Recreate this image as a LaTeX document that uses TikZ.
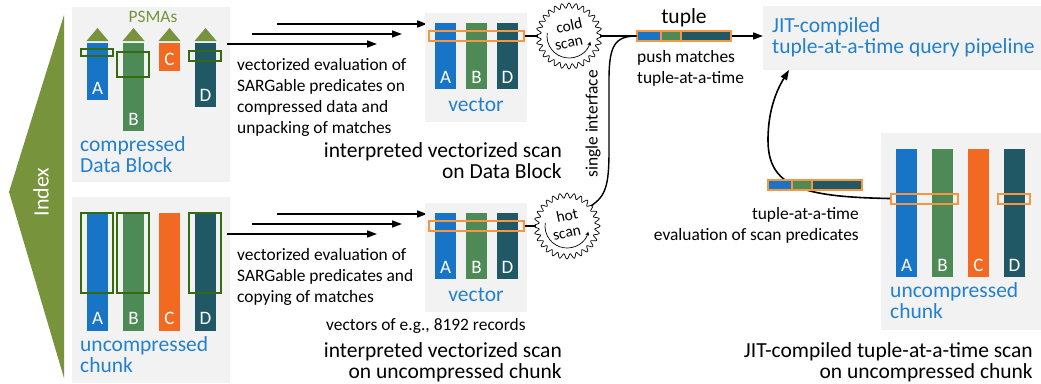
\documentclass[tikz,border=0pt]{standalone}
\usepackage{fontspec}
\setmainfont{Carlito}
\usetikzlibrary{arrows.meta,positioning}

\definecolor{colA}{HTML}{1874C6}
\definecolor{colB}{HTML}{4E8A56}
\definecolor{colC}{HTML}{F26A22}
\definecolor{colD}{HTML}{215866}
\definecolor{olive}{HTML}{77933C}
\definecolor{psmagreen}{HTML}{336B0E}
\definecolor{selorange}{HTML}{F7963F}
\definecolor{panel}{HTML}{F2F2F2}
\definecolor{textblue}{HTML}{2380CF}

\newcommand{\smallfont}{\fontsize{17.4}{21}\selectfont}
\newcommand{\bigfont}{\fontsize{21.5}{21}\selectfont}

% gear with a turning arrow: name, x, y, upper word
\newcommand{\scangear}[4]{%
  \node[gear] (#1) at (#2,#3) {};
  \draw[gearline, shift={(#2,#3)}] plot[domain=0:360, samples=337, variable=\t]
    (\t:{30.5+2.5*cos(28*\t)}) -- cycle;
  \draw[gearline, -{Stealth[length=4pt,width=4pt]}] ([shift={(172:22pt)}]#1.center)
    arc[start angle=172, end angle=345, radius=22pt];
  \node[gearlabel] (#1top) at ([yshift=10.5pt]#1.center) {#4};
  \node[gearlabel] (#1bot) at ([yshift=-8pt]#1.center) {scan};
}

% tuple of three attribute slots: prefix, x, y
\newcommand{\tuplebox}[3]{%
  \node[tseg, fill=colA, minimum width=24pt] (#1A) at (#2,#3) {};
  \node[tseg, fill=colB, minimum width=20pt, right=0pt of #1A] (#1B) {};
  \node[tseg, fill=colD, minimum width=50pt, right=0pt of #1B] (#1D) {};
}

\begin{document}
\begin{tikzpicture}[x=1pt, y=-1pt,
  panelbox/.style = {fill=panel, inner sep=0pt, outer sep=0pt, anchor=north west},
  bar/.style = {anchor=north, minimum width=21pt, inner sep=0pt, outer sep=0pt},
  letter/.style = {anchor=base, text=white, inner sep=0pt,
                   font=\fontsize{19}{19}\selectfont},
  psmabox/.style = {draw=psmagreen, line width=1.8pt},
  selbox/.style = {draw=selorange, line width=2pt, inner sep=0pt,
                   minimum height=10pt},
  tseg/.style = {draw=selorange, line width=1.6pt, inner sep=0pt, outer sep=0pt,
                 minimum height=10pt},
  gear/.style = {circle, minimum size=62pt, inner sep=0pt},
  gearline/.style = {line width=0.7pt},
  gearlabel/.style = {font=\fontsize{15.5}{15.5}\selectfont, inner sep=0pt, rotate=12},
  flow/.style = {line width=1.6pt, -{Triangle[length=10pt,width=7pt]}},
  link/.style = {line width=1.4pt},
  smalltext/.style = {font=\smallfont, align=left, inner sep=0pt},
  bigtext/.style = {font=\bigfont, align=left, inner sep=0pt},
  bluetext/.style = {bigtext, text=textblue}]
  \useasboundingbox (0,0) rectangle (1041,383);

  % index
  \fill[olive] (64,15) -- (64,378) -- (9,192) -- cycle;
  \node[rotate=90, text=white, font=\fontsize{22}{22}\selectfont] (index) at (41,192) {Index};

  % compressed Data Block
  \node[panelbox, minimum width=158pt, minimum height=175pt] (cbpanel) at (72,7) {};
  \node[smalltext, text=olive, anchor=base] (psmas) at (153,22) {PSMAs};
  \foreach \n/\c/\x/\h in {A/colA/97.5/57, B/colB/133.5/88, C/colC/169.5/28, D/colD/205.5/64} {
    \fill[olive] ({\x-11},41) -- ({\x+11},41) -- (\x,28) -- cycle;
    \node[bar, fill=\c, minimum height=\h pt] (cb\n) at (\x,43) {};
    \node[letter] (cbl\n) at ([yshift=6pt]cb\n.south) {\n};
  }
  \draw[psmabox] (81,49) rectangle (113,56);
  \draw[psmabox] (117,52) rectangle (149,77);
  \draw[psmabox] (189,51) rectangle (221,61);
  \node[bluetext, anchor=base west] (cblabel) at (80,172) {compressed\\Data Block};

  % uncompressed chunk
  \node[panelbox, minimum width=158pt, minimum height=186pt] (ucpanel) at (72,197) {};
  \foreach \n/\c/\x in {A/colA/97.5, B/colB/133.5, C/colC/169.5, D/colD/205.5} {
    \node[bar, fill=\c, minimum height=118pt] (uc\n) at (\x,213) {};
    \node[letter] (ucl\n) at ([yshift=7pt]uc\n.south) {\n};
  }
  \foreach \x in {97,133,205}
    \draw[psmabox] ({\x-16},213) rectangle ({\x+16},293);
  \node[bluetext, anchor=base west] (uclabel) at (80,372) {uncompressed\\chunk};

  % vectorized evaluation
  \foreach \k in {0,1,2} {
    \coordinate (cbs\k) at ({277-25*\k},{24+10*\k});
    \coordinate (cbe\k) at ({427-25*\k},{24+10*\k});
    \draw[flow] (cbs\k) -- (cbe\k);
    \coordinate (ucs\k) at ({277-25*\k},{214+10*\k});
    \coordinate (uce\k) at ({427-25*\k},{214+10*\k});
    \draw[flow] (ucs\k) -- (uce\k);
  }
  \node[smalltext, anchor=base west] (cbdesc) at (237,133)
    {vectorized evaluation of\\SARGable predicates on\\compressed data and\\unpacking of matches};
  \node[smalltext, anchor=base west] (ucdesc) at (237,302)
    {vectorized evaluation of\\SARGable predicates and\\copying of matches};

  % vectors
  \foreach \v/\y in {vt/13, vb/203} {
    \node[panelbox, minimum width=102pt, minimum height=109pt] (panel\v) at (425,\y) {};
    \foreach \n/\c/\x in {A/colA/445.5, B/colB/476.5, D/colD/507.5} {
      \node[bar, fill=\c, minimum height=66pt] (\v\n) at (\x,\y+10) {};
      \node[letter] (\v l\n) at ([yshift=6pt]\v\n.south) {\n};
    }
    \node[selbox, minimum width=95pt] (sel\v) at (476.5,\y+23) {};
    \node[bluetext, anchor=base] (lab\v) at (476,\y+98) {vector};
  }
  \node[smalltext, anchor=base west] (vecnote) at (326,330) {vectors of e.g., 8192 records};
  \node[bigtext, align=right, anchor=base east] (cbscan) at (562,178)
    {interpreted vectorized scan\\on Data Block};
  \node[bigtext, align=right, anchor=base east] (ucscan) at (562,378)
    {interpreted vectorized scan\\on uncompressed chunk};

  % cold and hot scans
  \scangear{cold}{569}{36}{cold}
  \scangear{hot}{567}{226}{hot}
  \draw[link] (selvt) -- (cold);
  \draw[link] (selvb) -- (hot);

  % query pipeline
  \node[panelbox, minimum width=278pt, minimum height=64pt] (jit) at (763,6) {};
  \node[bluetext, anchor=base west] (jitlabel) at (772,53)
    {JIT-compiled\\tuple-at-a-time query pipeline};
  \draw[flow] (cold) -- (cold -| jit.west);
  \tuplebox{tpa}{649}{36}
  \node[bigtext, anchor=base] (tuplelab) at (684,23) {tuple};
  \node[smalltext, anchor=base west] (pushlab) at (637,83) {push matches\\tuple-at-a-time};
  \draw[link] (hot.40) .. controls (606,196) and (609,185) .. (609,150) -- (609,80)
    .. controls (609,45) and (615,36) .. (tpaA.west);
  \node[smalltext, rotate=90] (single) at (593,124) {single interface};

  % JIT-compiled scan
  \node[panelbox, minimum width=160pt, minimum height=197pt] (urpanel) at (881,133) {};
  \foreach \n/\c/\x in {A/colA/906.5, B/colB/942.5, C/colC/978.5, D/colD/1014.5} {
    \node[bar, fill=\c, minimum height=128pt] (ur\n) at (\x,149) {};
    \node[letter] (url\n) at ([yshift=6pt]ur\n.south) {\n};
  }
  \node[selbox, minimum width=67pt] (selAB) at (924.5,198.5) {};
  \node[selbox, minimum width=32pt] (selD) at (1014,198.5) {};
  \draw[flow] (selAB.west) .. controls (800,197) and (768,186) .. (768,140)
    .. controls (768,108) and (778,88) .. ([xshift=26pt]jit.south west);
  \tuplebox{tpb}{780}{185}
  \node[smalltext, align=right, anchor=base east] (tatlab) at (859,240)
    {tuple-at-a-time\\evaluation of scan predicates};
  \node[bluetext, anchor=base west] (urlabel) at (890,318) {uncompressed\\chunk};
  \node[bigtext, align=right, anchor=base east] (urscan) at (1033,378)
    {JIT-compiled tuple-at-a-time scan\\on uncompressed chunk};
\end{tikzpicture}
\end{document}
